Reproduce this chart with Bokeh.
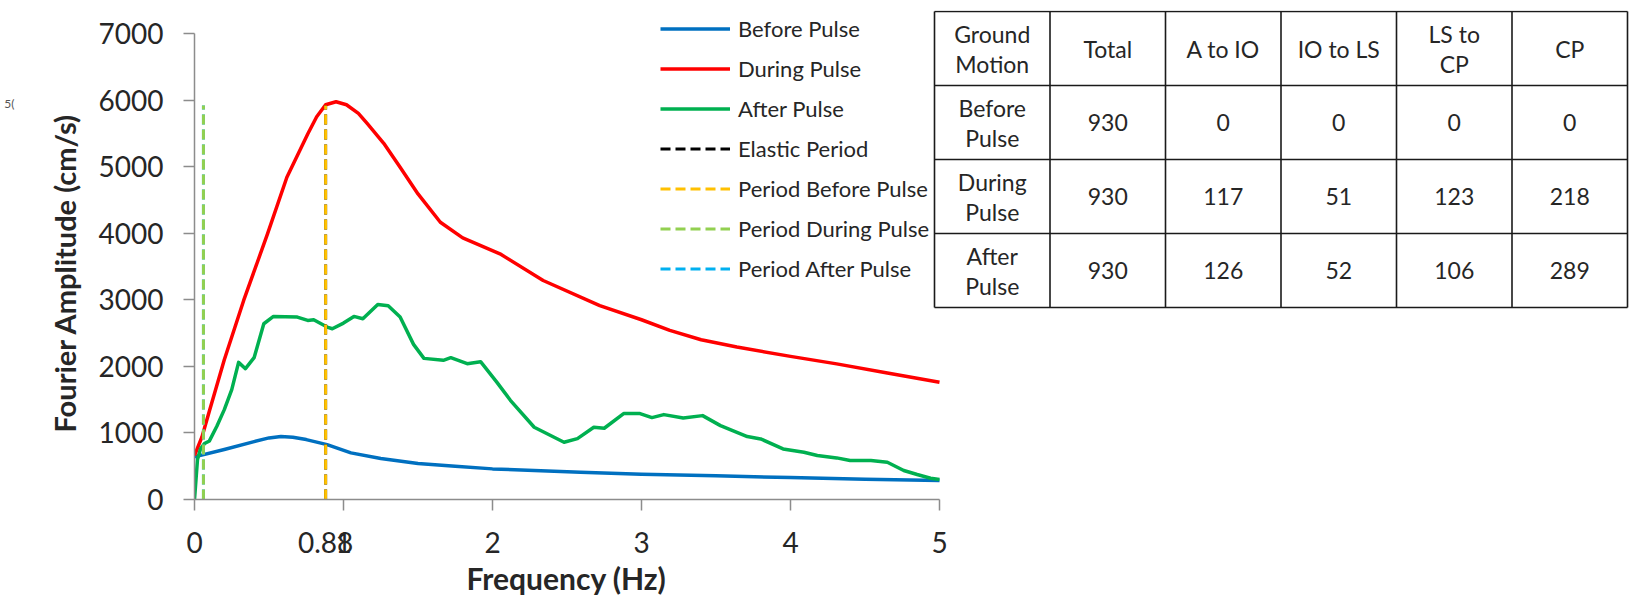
from bokeh.plotting import figure
from bokeh.models import (Range1d, FixedTicker, Legend, LegendItem, Title, LinearAxis,
                          NumeralTickFormatter)
from bokeh.core.properties import value
from bokeh.embed import file_html
from bokeh.resources import INLINE

# ---------------- data ----------------
freq_before = [0, 0.2, 0.4, 0.5, 0.58, 0.66, 0.75, 0.89, 1.05, 1.25, 1.5, 1.75, 2.0, 2.59, 3.0, 3.5, 4.0, 4.5, 5.0]
amp_before = [640, 750, 870, 925, 945, 935, 900, 825, 700, 615, 540, 500, 460, 410, 380, 355, 330, 305, 285]

freq_during = [0, 0.05, 0.1, 0.2, 0.33, 0.49, 0.62, 0.76, 0.82, 0.88, 0.95, 1.02, 1.1, 1.16, 1.27, 1.38,
               1.5, 1.65, 1.8, 2.05, 2.34, 2.72, 3.0, 3.19, 3.4, 3.64, 4.0, 4.31, 4.65, 5.0]
amp_during = [660, 940, 1330, 2100, 2990, 3990, 4840, 5490, 5750, 5930, 5975, 5930, 5800, 5645, 5350, 4990,
              4590, 4165, 3930, 3690, 3290, 2913, 2700, 2540, 2400, 2290, 2150, 2037, 1900, 1760]

freq_after = [0, 0.01, 0.02, 0.04, 0.067, 0.1, 0.15, 0.2, 0.25, 0.296, 0.342, 0.4, 0.465, 0.53,
              0.69, 0.76, 0.8, 0.89, 0.925, 1.0, 1.07, 1.13, 1.23, 1.3, 1.38, 1.47, 1.54, 1.67,
              1.72, 1.83, 1.92, 2.03, 2.12, 2.28, 2.48, 2.57, 2.68, 2.75, 2.88, 2.99, 3.07, 3.15,
              3.28, 3.41, 3.53, 3.71, 3.8, 3.95, 4.09, 4.18, 4.31, 4.4, 4.54, 4.65, 4.76, 4.85,
              4.94, 5.0]
amp_after = [0, 300, 600, 760, 840, 880, 1100, 1350, 1650, 2060, 1965, 2130, 2640, 2750,
             2740, 2690, 2700, 2590, 2565, 2650, 2750, 2715, 2930, 2910, 2740, 2330, 2120, 2090,
             2130, 2040, 2070, 1760, 1490, 1085, 860, 915, 1085, 1070, 1290, 1290, 1230, 1275,
             1225, 1260, 1110, 945, 910, 760, 710, 660, 625, 585, 585, 560, 435, 375,
             320, 300]

# period lines (Hz); elastic and after-pulse lines are hidden under the drawn ones
elastic_period = [0.88]
period_before_pulse = [0.88]
period_during_pulse = [0.06]
period_after_pulse = [0.06]
period_line_top = 5920

x_ticks = [0, 0.88, 1, 2, 3, 4, 5]
x_tick_marks = [0, 1, 2, 3, 4, 5]
y_ticks = [0, 1000, 2000, 3000, 4000, 5000, 6000, 7000]
stray_tick = {5950: "5("}

table_header = ["Ground\nMotion", "Total", "A to IO", "IO to LS", "LS to\nCP", "CP"]
table_motion = ["Before\nPulse", "During\nPulse", "After\nPulse"]
table_total = [930, 930, 930]
table_a_to_io = [0, 117, 126]
table_io_to_ls = [0, 51, 52]
table_ls_to_cp = [0, 123, 106]
table_cp = [0, 218, 289]

# ---------------- layout (canvas pixels) ----------------
W, H = 1632, 605
FRAME_L, FRAME_R, FRAME_T, FRAME_B = 194, 1632, 10, 499
X0_PX, X5_PX = 194, 939
Y0_PX, Y7000_PX = 499, 33
PX_PER_X = (X5_PX - X0_PX) / 5.0
PX_PER_Y = (Y0_PX - Y7000_PX) / 7000.0

def dx(px):
    return (px - X0_PX) / PX_PER_X

def dy(py):
    return (Y0_PX - py) / PX_PER_Y

FONT = "Lato"
TXT = "#262626"
AXC = "#8c8c8c"

p = figure(width=W, height=H,
           x_range=Range1d(0, dx(FRAME_R)), y_range=Range1d(0, dy(FRAME_T)),
           output_backend="svg", toolbar_location=None,
           min_border_left=FRAME_L, min_border_right=W - FRAME_R,
           min_border_top=FRAME_T, min_border_bottom=H - FRAME_B)
p.outline_line_color = None
p.grid.visible = False
p.background_fill_color = "white"

for ax in (p.xaxis[0], p.yaxis[0]):
    ax.axis_line_color = AXC
    ax.axis_line_width = 1.5
    ax.major_tick_out = 11
    ax.major_tick_in = 0
    ax.minor_tick_out = 11
    ax.minor_tick_in = 0
    ax.major_label_text_font = FONT
    ax.major_label_text_font_size = "28px"
    ax.major_label_text_color = TXT

xa = p.xaxis[0]
xa.ticker = FixedTicker(ticks=x_ticks, minor_ticks=x_tick_marks)
xa.formatter = NumeralTickFormatter(format="0.[00]")
xa.bounds = (x_tick_marks[0], x_tick_marks[-1])
xa.major_tick_line_color = None
xa.minor_tick_line_color = AXC
xa.minor_tick_line_width = 1.5
xa.major_label_standoff = 21

ya = p.yaxis[0]
ya.ticker = FixedTicker(ticks=y_ticks)
ya.bounds = (y_ticks[0], y_ticks[-1])
ya.major_tick_line_color = AXC
ya.major_tick_line_width = 1.5
ya.minor_tick_line_color = None
ya.major_label_standoff = 20

# curves
r_before = p.line(freq_before, amp_before, line_color="#0070C0", line_width=3.5, line_join="round")
r_during = p.line(freq_during, amp_during, line_color="#FF0000", line_width=3.5, line_join="round")
r_after = p.line(freq_after, amp_after, line_color="#00B050", line_width=3.5, line_join="round")

def vlines(xs, color):
    return p.segment(x0=xs, y0=[0] * len(xs), x1=xs, y1=[period_line_top] * len(xs),
                     line_color=color, line_width=3, line_dash="10 5")

r_elastic = vlines(elastic_period, "#000000")
r_pa = vlines(period_after_pulse, "#00B0F0")
r_pb = vlines(period_before_pulse, "#FFC000")
r_pd = vlines(period_during_pulse, "#92D050")

LEG_ITEM_H, LEG_SPACING = 27, 13
n_leg = 7
leg_h = n_leg * LEG_ITEM_H + (n_leg - 1) * LEG_SPACING
leg_top = 28 - LEG_ITEM_H / 2
legend = Legend(items=[
    LegendItem(label="Before Pulse", renderers=[r_before]),
    LegendItem(label="During Pulse", renderers=[r_during]),
    LegendItem(label="After Pulse", renderers=[r_after]),
    LegendItem(label="Elastic Period", renderers=[r_elastic]),
    LegendItem(label="Period Before Pulse", renderers=[r_pb]),
    LegendItem(label="Period During Pulse", renderers=[r_pd]),
    LegendItem(label="Period After Pulse", renderers=[r_pa]),
], location=(660 - FRAME_L, FRAME_B - leg_top - leg_h),
   glyph_width=70, glyph_height=LEG_ITEM_H, label_height=LEG_ITEM_H, spacing=LEG_SPACING,
   padding=0, margin=0, label_standoff=8,
   border_line_color=None, background_fill_alpha=0,
   label_text_font=FONT, label_text_font_size="22px", label_text_color=TXT)
p.add_layout(legend)

# axis titles (left-aligned titles honour the pixel offset)
p.add_layout(Title(text="Fourier Amplitude (cm/s)", align="left", offset=FRAME_B - 432,
                   standoff=28, text_font=FONT, text_font_size="29px", text_font_style="bold",
                   text_color=TXT), "left")
p.add_layout(Title(text="Frequency (Hz)", align="left", offset=466 - FRAME_L,
                   vertical_align="middle", standoff=6, text_font=FONT,
                   text_font_size="30px", text_font_style="bold", text_color=TXT), "below")

stray = LinearAxis(ticker=FixedTicker(ticks=list(stray_tick.keys())),
                   major_label_overrides=stray_tick, axis_line_color=None,
                   major_tick_line_color=None, minor_tick_line_color=None,
                   major_label_text_font=FONT, major_label_text_font_size="12px",
                   major_label_text_color="#555555", major_label_standoff=10)
p.add_layout(stray, "left")

# ---------------- table ----------------
T_L, COL_W, T_T, ROW_H = 934, 115.5, 11, 74
n_cols, n_rows = len(table_header), len(table_motion) + 1
T_B = T_T + ROW_H * n_rows
p.extra_x_ranges["tx"] = Range1d(-(T_L - FRAME_L) / COL_W, (FRAME_R - T_L) / COL_W)
p.extra_y_ranges["ty"] = Range1d(-(FRAME_B - T_B) / ROW_H, n_rows + (T_T - FRAME_T) / ROW_H)

p.segment(x0=list(range(n_cols + 1)), y0=[0] * (n_cols + 1),
          x1=list(range(n_cols + 1)), y1=[n_rows] * (n_cols + 1),
          line_color="#1a1a1a", line_width=1.6, x_range_name="tx", y_range_name="ty")
p.segment(x0=[0] * (n_rows + 1), y0=list(range(n_rows + 1)),
          x1=[n_cols] * (n_rows + 1), y1=list(range(n_rows + 1)),
          line_color="#1a1a1a", line_width=1.6, x_range_name="tx", y_range_name="ty")

cells = [table_header]
for i, m in enumerate(table_motion):
    cells.append([m, table_total[i], table_a_to_io[i], table_io_to_ls[i],
                  table_ls_to_cp[i], table_cp[i]])

tx, ty, tt, toff = [], [], [], []
for r, row in enumerate(cells):
    for c, val in enumerate(row):
        lines = str(val).split("\n")
        n = len(lines)
        for k, line in enumerate(lines):
            tx.append(c + 0.5)
            ty.append(n_rows - r - 0.5)
            tt.append(line)
            toff.append((k - (n - 1) / 2) * 30)

p.text(x=tx, y=ty, text=tt, y_offset=toff, text_align="center", text_baseline="middle",
       text_font=value(FONT), text_font_size="23px", text_color=TXT,
       x_range_name="tx", y_range_name="ty")

open("out.html", "w").write(file_html(p, INLINE))
